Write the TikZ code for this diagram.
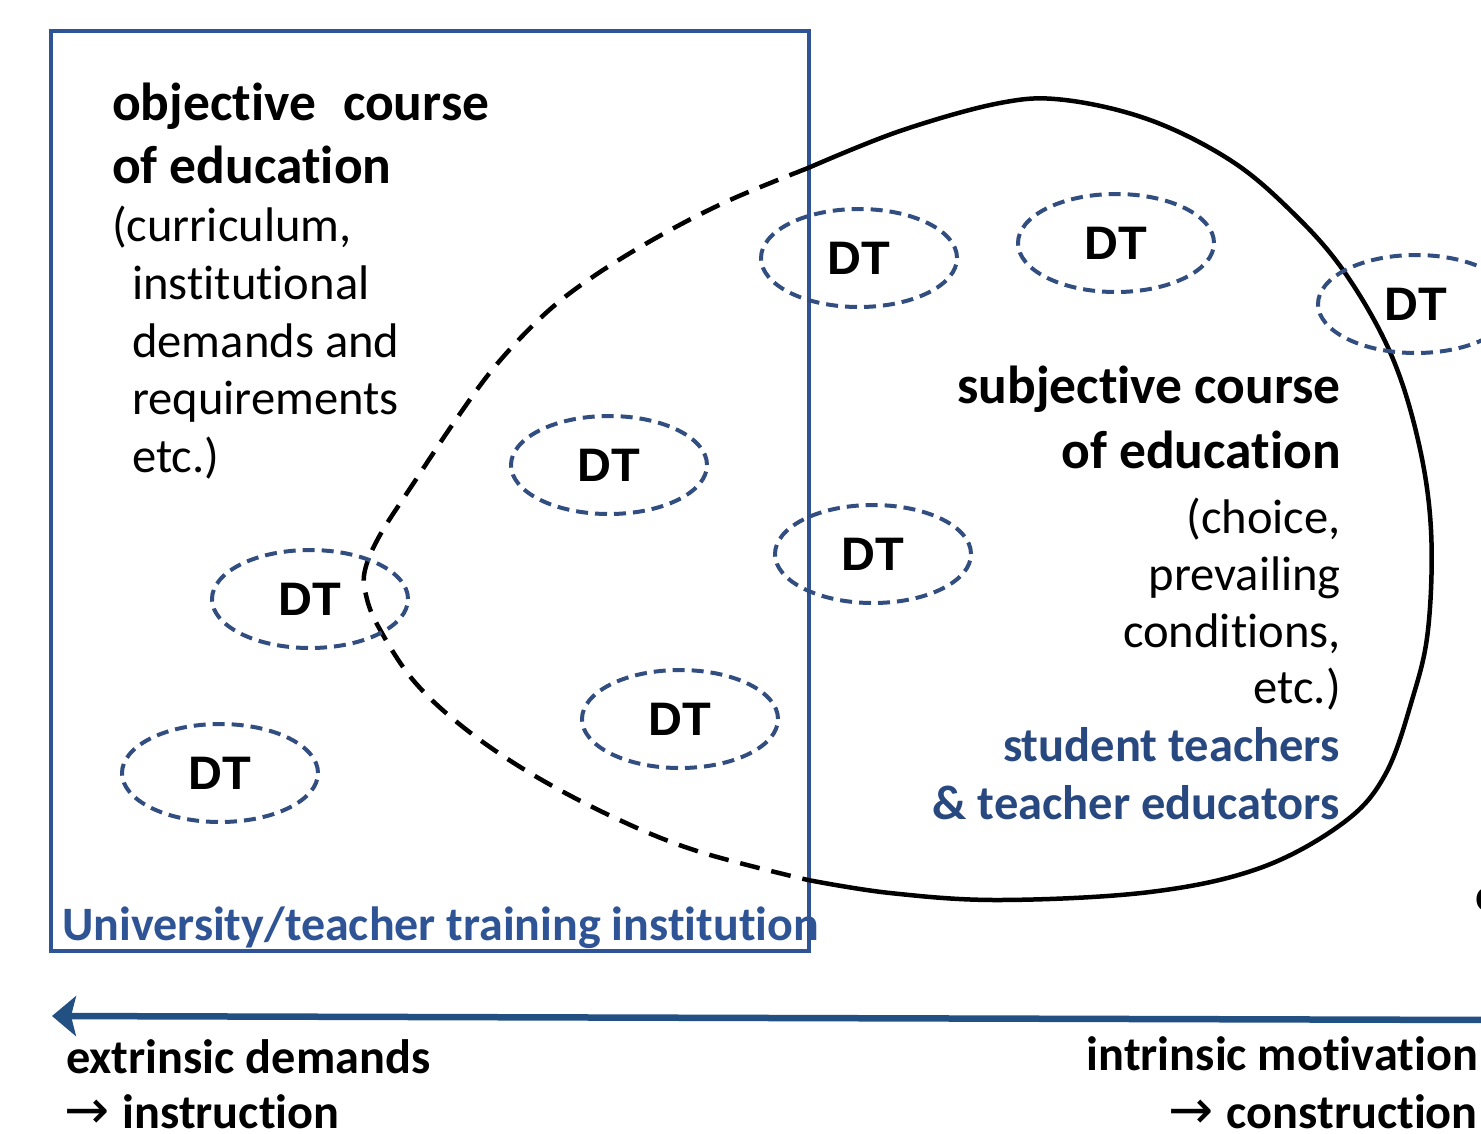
\documentclass[tikz,border=0pt]{standalone}
\usepackage{fontspec}
\setmainfont{Carlito}[Ligatures={NoCommon}, Contextuals={NoAlternate}]
\newfontfamily\dtfont{Liberation Sans}
\newfontfamily\arrowfont{DejaVu Sans}
\usetikzlibrary{arrows.meta,shapes.geometric}

\definecolor{frameblue}{RGB}{47,84,150}
\definecolor{dtblue}{RGB}{50,78,128}
\definecolor{arrowblue}{RGB}{34,80,130}
\definecolor{labelblue}{RGB}{40,72,128}

\newcommand{\rarr}{{\arrowfont\mdseries\fontsize{54}{56}\selectfont →}}

\tikzset{
  dtnode/.style={ellipse, draw=dtblue, line width=4pt,
    dash pattern=on 12pt off 7pt, inner sep=0pt,
    minimum width=196pt, minimum height=98pt,
    font=\dtfont\bfseries\fontsize{47}{50}\selectfont},
  headtxt/.style={inner sep=0pt, font=\bfseries\fontsize{53.5}{60}\selectfont},
  bodytxt/.style={inner sep=0pt, font=\fontsize{48.6}{56}\selectfont},
  axistxt/.style={inner sep=0pt, font=\bfseries\fontsize{48.3}{56}\selectfont},
  bluetxt/.style={inner sep=0pt, text=labelblue, font=\bfseries\fontsize{48.5}{56}\selectfont},
  course/.style={line width=4.5pt, black},
  coursedash/.style={line width=4.5pt, black, dash pattern=on 20pt off 12pt},
}

\begin{document}
\begin{tikzpicture}[x=1pt,y=-1pt]
\useasboundingbox (0,0) rectangle (1481,1133);

% institution frame
\draw[frameblue, line width=3.2pt] (51,31) rectangle (809,951);

% subjective course of education: solid outside the frame, dashed inside
\coordinate (ctop) at (808,168);
\coordinate (cbot) at (808,880);
\draw[course] plot[smooth, tension=0.6] coordinates {
  (808,168) (900,131) (1000,103) (1065,100) (1150,120) (1230,160)
  (1290,210) (1343,270) (1390,352) (1418,440) (1431,530) (1428,630)
  (1412,700) (1385,775) (1343,823) (1260,868) (1150,892) (1000,900)
  (890,893) (808,880)};
\draw[coursedash] plot[smooth, tension=0.6] coordinates {
  (808,168) (730,200) (663,234) (597,274) (547,312) (497,364)
  (457,418) (413,484) (380,535) (365,570) (366,595) (378,626)
  (413,680) (463,727) (530,773) (613,817) (697,851) (808,880)};

% development tasks
\node[dtnode] (dt1) at (859,258) {DT};
\node[dtnode] (dt2) at (1116,243) {DT};
\node[dtnode] (dt3) at (1416,304) {DT};
\node[dtnode] (dt4) at (609,465) {DT};
\node[dtnode] (dt5) at (873,554) {DT};
\node[dtnode] (dt6) at (310,599) {DT};
\node[dtnode] (dt7) at (680,719) {DT};
\node[dtnode] (dt8) at (220,773) {DT};

% objective course text
\node[headtxt, anchor=base west] (oa) at (112,120) {objective\hspace*{27pt}course};
\node[headtxt, anchor=base west] (ob) at (112,183) {of education};
\node[bodytxt, anchor=base west] (oc) at (112,241) {(curriculum,};
\node[bodytxt, anchor=base west] (od) at (132,299) {institutional};
\node[bodytxt, anchor=base west] (oe) at (132,357) {demands and};
\node[bodytxt, anchor=base west] (of) at (132,414) {requirements};
\node[bodytxt, anchor=base west] (og) at (132,472) {etc.)};

% subjective course text
\node[headtxt, anchor=base east] (sa) at (1341,403) {subjective course};
\node[headtxt, anchor=base east] (sb) at (1341,468) {of education};
\node[bodytxt, anchor=base east] (sc) at (1341,533) {(choice,};
\node[bodytxt, anchor=base east] (sd) at (1341,590) {prevailing};
\node[bodytxt, anchor=base east] (se) at (1341,647) {conditions,};
\node[bodytxt, anchor=base east] (sf) at (1341,703) {etc.)};
\node[bluetxt, anchor=base east] (sg) at (1340,761) {student teachers};
\node[bluetxt, anchor=base east] (sh) at (1340,819) {\& teacher educators};

\node[bluetxt, text=frameblue, font=\bfseries\fontsize{48}{56}\selectfont, anchor=base west] (inst) at (62,940) {University/teacher training institution};
\node[axistxt, anchor=base west] (edge) at (1475,911) {o};

% axis from intrinsic to extrinsic
\coordinate (axr) at (1495,1020);
\coordinate (axl) at (52,1016);
\draw[arrowblue, line width=6.5pt, -{Stealth[length=24pt,width=40pt,inset=5pt]}] (axr) -- (axl);

\node[axistxt, anchor=base west] (ex1) at (66,1073) {extrinsic demands};
\node[axistxt, anchor=base west] (ex2) at (64,1128) {\rarr\hspace*{13pt}instruction};
\node[axistxt, anchor=base east] (in1) at (1478,1070) {intrinsic motivation};
\node[axistxt, anchor=base east] (in2) at (1478,1128) {\rarr\hspace*{13pt}construction};
\end{tikzpicture}
\end{document}
